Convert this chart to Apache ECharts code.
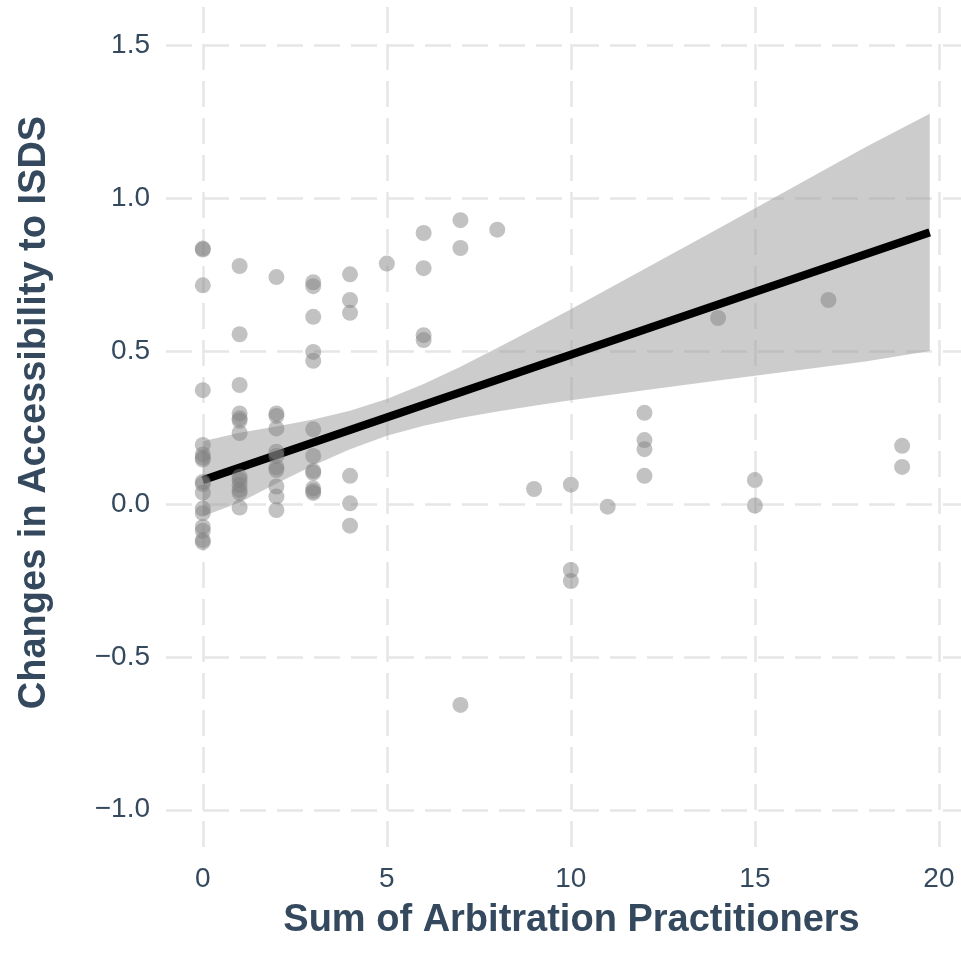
<!DOCTYPE html>
<html>
<head>
<meta charset="utf-8">
<script src="https://cdn.jsdelivr.net/npm/echarts@6/dist/echarts.min.js"></script>
<style>
  html, body { margin: 0; padding: 0; background: #fff; }
  #chart { width: 961px; height: 966px; }
</style>
</head>
<body>
<div id="chart"></div>
<script>
// points: sum of practitioners (x) and change in accessibility (y)
var practitioners = [
  0, 0, 0, 0, 0, 0, 0, 0, 0, 0, 0, 0, 0, 0, 0, 0, 0,
  1, 1, 1, 1, 1, 1, 1, 1, 1, 1, 1, 1, 1,
  2, 2, 2, 2, 2, 2, 2, 2, 2, 2, 2,
  3, 3, 3, 3, 3, 3, 3, 3, 3, 3, 3, 3,
  4, 4, 4, 4, 4, 4,
  5,
  6, 6, 6, 6,
  7, 7, 7,
  8, 9,
  10, 10, 10,
  11,
  12, 12, 12, 12,
  14,
  15, 15,
  17,
  19, 19
];
var accessChange = [
  0.835, 0.832, 0.715, 0.372, 0.193, 0.162, 0.152, 0.145, 0.072, 0.065, 0.037, -0.015, -0.03, -0.075, -0.088, -0.118, -0.125,
  0.778, 0.555, 0.389, 0.296, 0.28, 0.272, 0.232, 0.089, 0.078, 0.062, 0.046, 0.036, -0.012,
  0.742, 0.296, 0.288, 0.247, 0.171, 0.157, 0.12, 0.111, 0.057, 0.024, -0.02,
  0.725, 0.712, 0.612, 0.497, 0.468, 0.244, 0.157, 0.108, 0.102, 0.051, 0.042, 0.036,
  0.751, 0.667, 0.625, 0.092, 0.002, -0.071,
  0.786,
  0.886, 0.771, 0.552, 0.536,
  0.928, 0.837, -0.657,
  0.897, 0.049,
  0.063, -0.216, -0.252,
  -0.009,
  0.298, 0.209, 0.179, 0.092,
  0.608,
  0.078, -0.005,
  0.667,
  0.19, 0.121
];

// fitted line and its confidence band
var fitX = [0, 19.75];
var fitY = [0.078, 0.888];
var bandX    = [0, 1, 2, 3, 4, 5, 6, 7, 8, 9, 10, 12, 14, 16, 18, 19.75];
var bandLow  = [-0.04, 0.005, 0.067, 0.126, 0.179, 0.223, 0.256, 0.281, 0.302, 0.321, 0.339, 0.372, 0.404, 0.435, 0.466, 0.50];
var bandHigh = [0.205, 0.233, 0.253, 0.276, 0.305, 0.343, 0.392, 0.449, 0.51, 0.573, 0.637, 0.768, 0.90, 1.033, 1.166, 1.276];

var xTicks = [0, 5, 10, 15, 20];
var yTicks = [-1, -0.5, 0, 0.5, 1, 1.5];

var textColor = '#34495e';
var gridLine = { color: '#e6e6e6', width: 2.5, type: [26, 11] };

var points = practitioners.map(function (x, i) { return [x, accessChange[i]]; });
var fitData = fitX.map(function (x, i) { return [x, fitY[i]]; });

var myChart = echarts.init(document.getElementById('chart'));
var option = {
    animation: false,
    grid: { left: 166, right: 0, top: 7, bottom: 118 },
    xAxis: {
        type: 'value',
        min: -1,
        max: 20.6,
        name: 'Sum of Arbitration Practitioners',
        nameLocation: 'middle',
        nameGap: 54,
        nameTextStyle: {
            color: textColor, fontSize: 38, fontWeight: 'bold', fontFamily: 'Liberation Sans',
            padding: [0, 0, 0, 16]
        },
        axisLine: { show: false, onZero: false },
        axisTick: { show: false, customValues: xTicks },
        axisLabel: {
            customValues: xTicks,
            color: textColor, fontSize: 28, fontFamily: 'Liberation Sans', margin: 17
        },
        splitLine: { show: true, customValues: xTicks, lineStyle: gridLine }
    },
    yAxis: {
        type: 'value',
        min: -1.125,
        max: 1.625,
        name: 'Changes in Accessibility to ISDS',
        nameLocation: 'middle',
        nameGap: 112,
        nameTextStyle: {
            color: textColor, fontSize: 38, fontWeight: 'bold', fontFamily: 'Liberation Sans',
            padding: [0, 0, 0, 30]
        },
        axisLine: { show: false, onZero: false },
        axisTick: { show: false, customValues: yTicks },
        axisLabel: {
            customValues: yTicks,
            color: textColor, fontSize: 28, fontFamily: 'Liberation Sans', margin: 16,
            formatter: function (v) { return v.toFixed(1).replace('-', '\u2212'); }
        },
        splitLine: { show: true, customValues: yTicks, lineStyle: gridLine }
    },
    series: [
        {
            name: 'band',
            type: 'custom',
            z: 1,
            silent: true,
            data: [0],
            renderItem: function (params, api) {
                var pts = [];
                for (var i = 0; i < bandX.length; i++) pts.push(api.coord([bandX[i], bandHigh[i]]));
                for (var j = bandX.length - 1; j >= 0; j--) pts.push(api.coord([bandX[j], bandLow[j]]));
                return {
                    type: 'polygon',
                    shape: { points: pts },
                    style: { fill: 'rgba(153,153,153,0.5)' }
                };
            }
        },
        {
            name: 'fit',
            type: 'line',
            z: 2,
            data: fitData,
            symbol: 'none',
            lineStyle: { color: '#000', width: 8 }
        },
        {
            name: 'points',
            type: 'scatter',
            z: 3,
            data: points,
            symbolSize: 16,
            itemStyle: { color: 'rgba(128,128,128,0.6)' }
        }
    ]
};
myChart.setOption(option);
</script>
</body>
</html>
